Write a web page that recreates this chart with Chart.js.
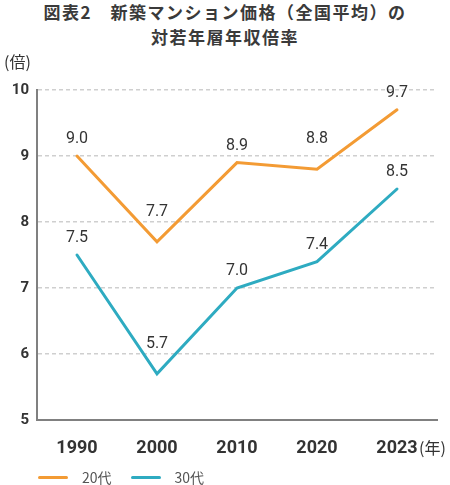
<!DOCTYPE html>
<html lang="ja">
<head>
<meta charset="utf-8">
<script src="https://cdn.jsdelivr.net/npm/chart.js@4"></script>
<style>
  html, body { margin: 0; padding: 0; background: #fff; }
  #wrap { position: relative; width: 450px; height: 485px; overflow: hidden; }
  #title {
    position: absolute; top: -1px; left: 0; width: 450px; text-align: center;
    font: bold 17px "Noto Sans CJK JP", sans-serif; color: #3a3a3a;
    letter-spacing: 1.5px; line-height: 25px;
  }
  #chart { position: absolute; top: 0; left: 0; }
  #legend {
    position: absolute; left: 38px; top: 467px; height: 20px;
    font: 14px "Noto Sans CJK JP", sans-serif; color: #555;
    display: flex; align-items: center;
  }
  .sw { width: 30px; height: 3px; border-radius: 2px; margin-right: 14px; }
  .item { display: flex; align-items: center; margin-right: 19px; }
</style>
</head>
<body>
<div id="wrap">
  <div id="title">図表2　新築マンション価格（全国平均）の<br>対若年層年収倍率</div>
  <canvas id="chart" width="450" height="485"></canvas>
  <div id="legend"></div>
</div>
<script>
// data
const years = ['1990', '2000', '2010', '2020', '2023'];
const age20s = [9.0, 7.7, 8.9, 8.8, 9.7];
const age30s = [7.5, 5.7, 7.0, 7.4, 8.5];
const seriesNames = ['20代', '30代'];
const yTicks = [5, 6, 7, 8, 9, 10];

const ORANGE = '#f39b34';
const TEAL = '#2eabc1';
const TEXT = '#333';

// legend (html, so the swatches sit like the original)
document.getElementById('legend').innerHTML = seriesNames.map((n, i) => `
  <div class="item"><div class="sw" style="background:${i ? TEAL : ORANGE}"></div><span>${n}</span></div>
`).join('');

// value labels above points, pushed higher where the line dips into a V
const valueLabels = {
  id: 'valueLabels',
  afterDatasetsDraw(chart) {
    const ctx = chart.ctx;
    ctx.save();
    ctx.font = '16px Roboto, sans-serif';
    ctx.fillStyle = TEXT;
    ctx.textAlign = 'center';
    ctx.textBaseline = 'middle';
    chart.data.datasets.forEach((ds, di) => {
      const meta = chart.getDatasetMeta(di);
      meta.data.forEach((pt, i) => {
        const v = ds.data[i];
        const prev = ds.data[i - 1], next = ds.data[i + 1];
        const dip = prev !== undefined && next !== undefined && v < prev && v < next;
        ctx.fillText(v.toFixed(1), pt.x, pt.y - (dip ? 30 : 17));
      });
    });
    ctx.restore();
  }
};

// unit notes: (倍) above the y axis, (年) after the last year
const unitNotes = {
  id: 'unitNotes',
  afterDraw(chart) {
    const ctx = chart.ctx;
    const x = chart.scales.x;
    ctx.save();
    ctx.fillStyle = TEXT;
    ctx.font = '16px "Noto Sans CJK JP", sans-serif';
    ctx.textBaseline = 'middle';
    ctx.textAlign = 'left';
    ctx.fillText('(倍)', 4, 62);
    const lastX = x.getPixelForTick(years.length - 1);
    ctx.fillText('(年)', lastX + 22, 448);
    ctx.restore();
  }
};

new Chart(document.getElementById('chart'), {
  type: 'line',
  data: {
    labels: years,
    datasets: [
      { label: seriesNames[0], data: age20s, borderColor: ORANGE, backgroundColor: ORANGE },
      { label: seriesNames[1], data: age30s, borderColor: TEAL, backgroundColor: TEAL }
    ]
  },
  options: {
    responsive: false,
    animation: false,
    devicePixelRatio: 1,
    elements: {
      line: { borderWidth: 3, tension: 0, borderCapStyle: 'round', borderJoinStyle: 'miter' },
      point: { radius: 0, hoverRadius: 0 }
    },
    layout: { padding: { top: 90, right: 13, left: 0, bottom: 0 } },
    plugins: {
      legend: { display: false },
      tooltip: { enabled: false },
      title: { display: false }
    },
    scales: {
      x: {
        offset: true,
        afterFit: s => { s.height = 65; },
        grid: { display: false, drawTicks: false },
        border: { display: true, color: '#808080', width: 2 },
        ticks: {
          color: TEXT,
          padding: 18,
          maxRotation: 0,
          font: { family: 'Roboto', size: 18, weight: 'bold' }
        }
      },
      y: {
        min: 5,
        max: 10,
        afterFit: s => { s.width = 37; },
        afterBuildTicks: s => { s.ticks = yTicks.map(v => ({ value: v })); },
        grid: { color: '#cfcfcf', lineWidth: 1.5, drawTicks: false },
        border: { display: true, color: '#808080', width: 2, dash: [4, 3] },
        ticks: {
          color: TEXT,
          padding: 8,
          font: { family: 'Roboto', size: 15, weight: 'bold' }
        }
      }
    }
  },
  plugins: [valueLabels, unitNotes]
});
</script>
</body>
</html>
